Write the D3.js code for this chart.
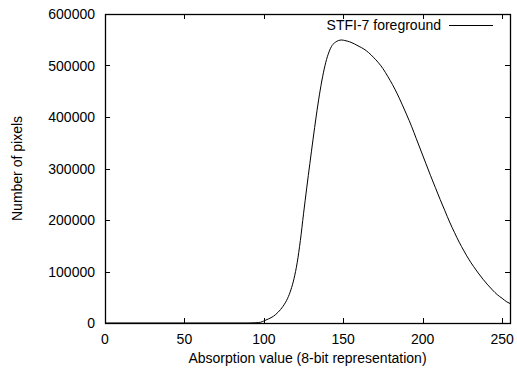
<!DOCTYPE html>
<html>
<head>
<meta charset="utf-8">
<script src="https://cdn.jsdelivr.net/npm/d3@7"></script>
<style>
  body { margin: 0; background: #fff; }
  text { font-family: "Liberation Sans", Arial, sans-serif; font-size: 14px; fill: #000; }
</style>
</head>
<body>
<svg id="chart" width="517" height="377"></svg>
<script>
// histogram values
const absorption = [0, 50, 90, 95, 98, 100, 103, 106, 109, 112, 115, 117, 119, 121, 123, 125, 127, 129, 131, 133,
  135, 137, 139, 141, 143, 145, 147, 149, 151, 154, 157, 160, 163, 166, 169, 172, 175, 178, 181, 184,
  187, 190, 193, 196, 199, 202, 205, 208, 211, 214, 217, 220, 223, 226, 229, 232, 235, 238, 241, 244,
  247, 250, 253, 255];
const pixels = [0, 0, 0, 500, 1500, 4000, 8000, 13000, 21000, 32000, 48000, 64000, 86000, 117000, 160000, 212000, 262000, 310000, 357000, 402000,
  443000, 478000, 506000, 526000, 539000, 545000, 548500, 549500, 548500, 546000, 542000, 537000, 532000, 525000, 516000, 506000, 494000, 479000, 463000, 445000,
  425000, 404000, 382000, 358000, 334000, 310000, 286000, 263000, 240000, 218000, 196000, 176000, 157000, 140000, 124000, 110000, 97000, 85000, 74000, 64000,
  55000, 48000, 41000, 37800];
const xTicks = [0, 50, 100, 150, 200, 250];
const yTicks = [0, 100000, 200000, 300000, 400000, 500000, 600000];
const seriesName = "STFI-7 foreground";

//layout
let margin = {top: 14, right: 7, bottom: 54, left: 105};
let W = 517, H = 377;
let width = W - margin.left - margin.right;
let height = H - margin.top - margin.bottom;
let tickLen = 5;

let svg = d3.select("#chart");
let g = svg.append("g")
  .attr("transform", `translate(${margin.left},${margin.top})`);

let xScale = d3.scaleLinear().domain([0, 255]).range([0, width]);
let yScale = d3.scaleLinear().domain([0, 600000]).range([height, 0]);

//ticks, inward and mirrored
let tickG = g.append("g").attr("stroke", "#000").attr("stroke-width", 1);
xTicks.forEach(t => {
  let x = Math.round(xScale(t)) + 0.5;
  tickG.append("line").attr("x1", x).attr("x2", x).attr("y1", height).attr("y2", height - tickLen);
  tickG.append("line").attr("x1", x).attr("x2", x).attr("y1", 0).attr("y2", tickLen);
});
yTicks.forEach(t => {
  let y = Math.round(yScale(t)) + 0.5;
  tickG.append("line").attr("x1", 0).attr("x2", tickLen).attr("y1", y).attr("y2", y);
  tickG.append("line").attr("x1", width).attr("x2", width - tickLen).attr("y1", y).attr("y2", y);
});

//tick labels
g.selectAll(".xlab").data(xTicks).enter().append("text")
  .attr("x", d => xScale(d))
  .attr("y", height + 21)
  .attr("text-anchor", "middle")
  .text(d => d);
g.selectAll(".ylab").data(yTicks).enter().append("text")
  .attr("x", -10)
  .attr("y", d => yScale(d) + 5)
  .attr("text-anchor", "end")
  .text(d => d);

//curve
let line = d3.line()
  .x((d, i) => xScale(absorption[i]))
  .y(d => yScale(d))
  .curve(d3.curveMonotoneX);
g.append("path")
  .datum(pixels)
  .attr("fill", "none")
  .attr("stroke", "#000")
  .attr("stroke-width", 1)
  .attr("d", line);

//frame
g.append("rect")
  .attr("x", 0.5).attr("y", 0.5)
  .attr("width", width).attr("height", height)
  .attr("fill", "none")
  .attr("stroke", "#000")
  .attr("stroke-width", 1.3);

//legend
g.append("text")
  .attr("x", 336)
  .attr("y", 16)
  .attr("text-anchor", "end")
  .text(seriesName);
g.append("line")
  .attr("x1", 344).attr("x2", 388)
  .attr("y1", 11.5).attr("y2", 11.5)
  .attr("stroke", "#000");

//axis titles
svg.append("text")
  .attr("x", margin.left + width / 2)
  .attr("y", 363)
  .attr("text-anchor", "middle")
  .text("Absorption value (8-bit representation)");
svg.append("text")
  .attr("transform", `translate(22,${margin.top + height / 2}) rotate(-90)`)
  .attr("text-anchor", "middle")
  .text("Number of pixels");
</script>
</body>
</html>
